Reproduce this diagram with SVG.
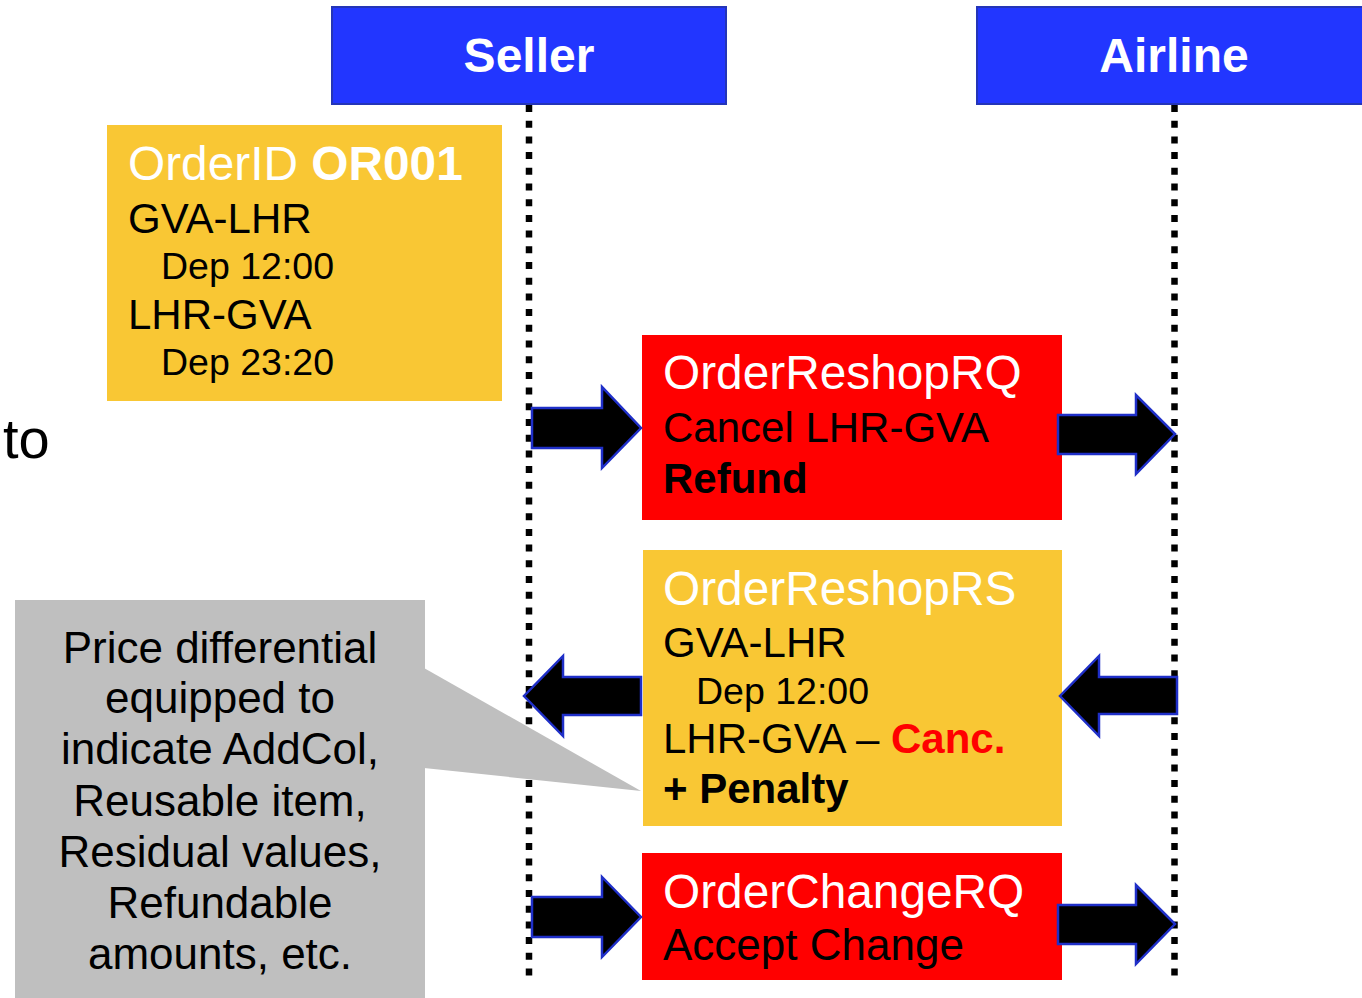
<svg xmlns="http://www.w3.org/2000/svg" width="1362" height="998" viewBox="0 0 1362 998">
  <style>
    text { font-family: "Liberation Sans", Arial, sans-serif; }
    .hdr { fill: #2236FF; stroke: #2435B8; stroke-width: 2; }
    .hdrt { fill: #ffffff; font-weight: bold; font-size: 48px; text-anchor: middle; }
    .yel { fill: #F9C734; }
    .red { fill: #FF0000; }
    .gray { fill: #BFBFBF; }
    .title { fill: #ffffff; font-size: 47.8px; }
    .body { fill: #000000; font-size: 42px; }
    .sub { fill: #000000; font-size: 37.5px; }
    .b { font-weight: bold; }
    .note { fill: #000000; font-size: 44px; text-anchor: middle; }
    .life { stroke: #000000; stroke-width: 6.5; stroke-dasharray: 7 8.7; fill: none; }
    .arr { fill: #000000; stroke: #1F2FC8; stroke-width: 2.5; stroke-linejoin: miter; }
  </style>

  <g id="seller">
    <rect class="hdr" x="332" y="7" width="394" height="97"/>
    <text class="hdrt" x="529" y="72">Seller</text>
  </g>
  <g id="airline">
    <rect class="hdr" x="977" y="7" width="390" height="97"/>
    <text class="hdrt" x="1174" y="72">Airline</text>
  </g>

  <g id="lifelines">
    <line class="life" x1="529" y1="105" x2="529" y2="978"/>
    <line class="life" x1="1174.5" y1="105" x2="1174.5" y2="978"/>
  </g>

  <g id="order">
    <rect class="yel" x="107" y="125" width="395" height="276"/>
    <text class="title" x="128" y="180">OrderID <tspan class="b">OR001</tspan></text>
    <text class="body" x="128" y="233">GVA-LHR</text>
    <text class="sub" x="161" y="279">Dep 12:00</text>
    <text class="body" x="128" y="329">LHR-GVA</text>
    <text class="sub" x="161" y="375">Dep 23:20</text>
  </g>

  <g id="to-label">
    <text x="3" y="458" style="font-size:56px; fill:#000;">to</text>
  </g>

  <g id="reshop-rq">
    <rect class="red" x="642" y="335" width="420" height="185"/>
    <text class="title" x="663" y="389">OrderReshopRQ</text>
    <text class="body" x="663" y="442">Cancel LHR-GVA</text>
    <text class="body b" x="663" y="493">Refund</text>
  </g>

  <g id="reshop-rs">
    <rect class="yel" x="643" y="550" width="419" height="276"/>
    <text class="title" x="663" y="605">OrderReshopRS</text>
    <text class="body" x="663" y="657">GVA-LHR</text>
    <text class="sub" x="696" y="704">Dep 12:00</text>
    <text class="body" x="663" y="753">LHR-GVA – <tspan class="b" fill="#FF0000">Canc.</tspan></text>
    <text class="body b" x="663" y="803">+ Penalty</text>
  </g>

  <g id="change-rq">
    <rect class="red" x="642" y="853" width="420" height="127"/>
    <text class="title" x="663" y="908">OrderChangeRQ</text>
    <text class="body" x="663" y="960" style="font-size:44px;">Accept Change</text>
  </g>

  <g id="callout">
    <rect class="gray" x="15" y="600" width="410" height="400"/>
    <polygon class="gray" points="424,668 641,791 424,768"/>
    <text class="note" x="220" y="663">Price differential</text>
    <text class="note" x="220" y="713">equipped to</text>
    <text class="note" x="220" y="764">indicate AddCol,</text>
    <text class="note" x="220" y="816">Reusable item,</text>
    <text class="note" x="220" y="867">Residual values,</text>
    <text class="note" x="220" y="918">Refundable</text>
    <text class="note" x="220" y="969">amounts, etc.</text>
  </g>

  <g id="connectors">
    <polygon class="arr" points="532,408 602,408 602,387 641,428 602,468 602,448 532,448"/>
    <polygon class="arr" points="1058,415 1136,415 1136,395 1175,434 1136,474 1136,454 1058,454"/>
    <polygon class="arr" points="641,677 563,677 563,656 524,696 563,736 563,715 641,715"/>
    <polygon class="arr" points="1177,677 1099,677 1099,656 1060,696 1099,736 1099,714 1177,714"/>
    <polygon class="arr" points="532,897 602,897 602,877 641,917 602,957 602,937 532,937"/>
    <polygon class="arr" points="1058,905 1136,905 1136,885 1175,924 1136,964 1136,944 1058,944"/>
  </g>
</svg>
